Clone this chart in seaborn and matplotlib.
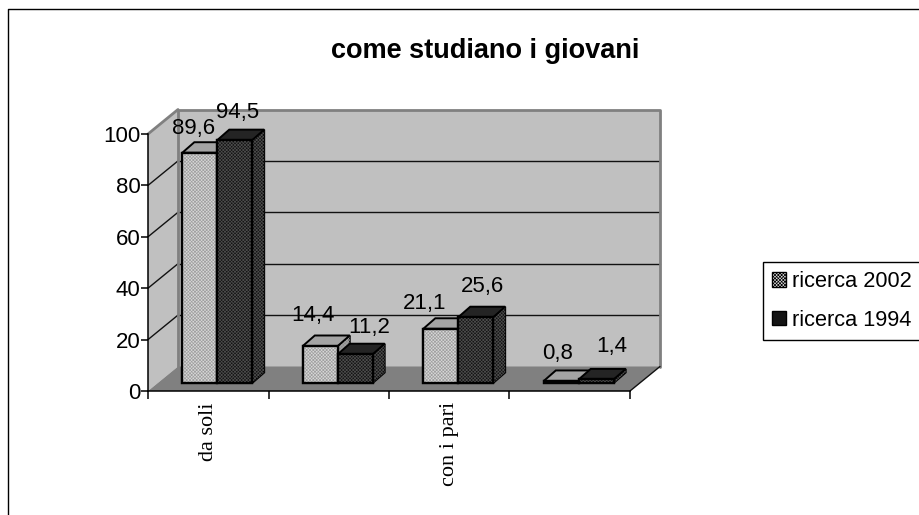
import matplotlib
matplotlib.use("Agg")
import matplotlib.pyplot as plt
import seaborn as sns
import pandas as pd
from matplotlib.patches import Polygon, Patch, Rectangle
from matplotlib.transforms import ScaledTranslation

title = "come studiano i giovani"
categories = ["da soli", " ", "con i pari", "  "]
series_names = ["ricerca 2002", "ricerca 1994"]
ricerca_2002 = [89.6, 14.4, 21.1, 0.8]
ricerca_1994 = [94.5, 11.2, 25.6, 1.4]
y_ticks = [0, 20, 40, 60, 80, 100]

W, H = 919, 515
sns.set_theme(style="white")
plt.rcParams["font.family"] = ["Liberation Sans", "DejaVu Sans"]
plt.rcParams["hatch.linewidth"] = 0.5

fig = plt.figure(figsize=(W / 100, H / 100), dpi=100)
ax = fig.add_axes([148 / W, (H - 391) / H, 482 / W, 257 / H])

df = pd.DataFrame({
    "cat": categories * 2,
    "serie": [series_names[0]] * 4 + [series_names[1]] * 4,
    "val": ricerca_2002 + ricerca_1994,
})
LIGHT, DARK = "#d8d8d8", "#141414"
HATCH_L, HATCH_D = "#a0a0a0", "#4c4c4c"
HATCH = "xxxxxxxxxx"
sns.barplot(data=df, x="cat", y="val", hue="serie", hue_order=series_names,
            palette=[LIGHT, DARK], width=0.58, gap=0, saturation=1,
            edgecolor="black", linewidth=1.6, legend=False, ax=ax)
ax.set_xlim(-0.5, 3.5)
ax.set_ylim(0, 100)


def shift(dx, dy):
    return ax.transData + ScaledTranslation(dx / 100, dy / 100, fig.dpi_scale_trans)


x0, x1 = -0.5, 3.5
to_px = lambda x, y: ax.transData.transform((x, y))
inv = fig.transFigure.inverted()


def off(p, dx, dy):
    return (p[0] + dx, p[1] + dy)


def fig_poly(pts, **kw):
    p = Polygon([inv.transform(q) for q in pts], closed=True,
                transform=fig.transFigure, clip_on=False, **kw)
    ax.add_patch(p)
    return p


def fig_line(a, b, **kw):
    pa, pb = inv.transform(a), inv.transform(b)
    ax.plot([pa[0], pb[0]], [pa[1], pb[1]], transform=fig.transFigure, clip_on=False, **kw)


# back wall, side wall, floor
DX, DY = 30, 24.5
back = shift(DX, DY)
bl, br, tl = to_px(x0, 0), to_px(x1, 0), to_px(x0, 100)
ax.add_patch(Rectangle((x0, 0), x1 - x0, 100, transform=back, fc="#c0c0c0", ec="none",
                       clip_on=False, zorder=0.1))
fig_poly([bl, tl, off(tl, DX, DY), off(bl, DX, DY)], fc="#c0c0c0", ec="none", zorder=0.1)
fig_poly([bl, br, off(br, DX, DY), off(bl, DX, DY)], fc="#808080", ec="none", zorder=0.2)

for t in y_ticks[1:-1]:
    ax.plot([x0, x1], [t, t], transform=back, color="#111111", lw=1.0, clip_on=False, zorder=0.3)
    fig_line(to_px(x0, t), off(to_px(x0, t), DX, DY), color="#111111", lw=1.0, zorder=0.3)
ax.plot([x0, x0, x1, x1], [0, 100, 100, 0], transform=back, color="#808080", lw=2,
        clip_on=False, zorder=0.35)
fig_line(tl, off(tl, DX, DY), color="#808080", lw=2, zorder=0.35)
fig_line(br, off(br, DX, DY), color="#111111", lw=1.0, zorder=0.35)

# bars: shift the library's bars onto the floor and give them depth
BX, BY, DEPTH_X, DEPTH_Y = 9, 8, 12, 10.5
bars = [p for c in ax.containers for p in c.patches]
values = ricerca_2002 + ricerca_1994
label_nudge = [(-6, 24), (-7, 30), (-16, 25), (-4, 27),
               (3, 28), (14, 27), (7, 31), (16, 33)]
order = sorted(range(len(bars)), key=lambda i: bars[i].get_x())
n = len(categories)
for z, i in enumerate(order):
    bar = bars[i]
    light = i < n
    top_col, side_col = ("#a4a4a4", "#8c8c8c") if light else ("#242424", "#141414")
    hatch_col = HATCH_L if light else HATCH_D
    zb = 1 + z * 0.1
    bar.set_transform(shift(BX, BY))
    bar.set_zorder(zb + 0.02)
    bar.set_clip_on(False)
    x, w, h = bar.get_x(), bar.get_width(), bar.get_height()
    p00 = off(to_px(x, 0), BX, BY)
    p10 = off(to_px(x + w, 0), BX, BY)
    p01 = off(to_px(x, h), BX, BY)
    p11 = off(to_px(x + w, h), BX, BY)
    side = [p10, p11, off(p11, DEPTH_X, DEPTH_Y), off(p10, DEPTH_X, DEPTH_Y)]
    top = [p01, p11, off(p11, DEPTH_X, DEPTH_Y), off(p01, DEPTH_X, DEPTH_Y)]
    front = [p00, p10, p11, p01]
    fig_poly(side, fc=side_col, ec="black", lw=1.4, zorder=zb)
    fig_poly(side, fc="none", ec=hatch_col, lw=0, hatch=HATCH, zorder=zb + 0.001)
    fig_poly(top, fc=top_col, ec="black", lw=1.4, zorder=zb + 0.01)
    fig_poly(front, fc="none", ec=hatch_col, lw=0, hatch=HATCH, zorder=zb + 0.03)
    fig_poly(front, fc="none", ec="black", lw=1.6, zorder=zb + 0.04)
    nx, ny = label_nudge[i]
    ax.annotate(f"{values[i]:.1f}".replace(".", ","),
                xy=(x + w / 2, h), xycoords="data",
                xytext=(BX + nx, BY + ny), textcoords="offset pixels",
                ha="center", va="center", fontsize=16, color="black",
                annotation_clip=False, zorder=5)

# axes
sns.despine(ax=ax, top=True, right=True)
for s in ("left", "bottom"):
    ax.spines[s].set_color("black")
    ax.spines[s].set_linewidth(1.1)
    ax.spines[s].set_zorder(4)
ax.patch.set_visible(False)
ax.set_xlabel("")
ax.set_ylabel("")
ax.set_yticks(y_ticks)
ax.tick_params(axis="y", left=True, length=5, width=1.1, color="black", labelsize=16,
               labelcolor="black", pad=0.5)
ax.set_xticks(range(n))
ax.set_xticks([k - 0.5 for k in range(n + 1)], minor=True)
ax.tick_params(axis="x", which="minor", bottom=True, length=6, width=1.1, color="black")
ax.tick_params(axis="x", which="major", bottom=False, length=0, pad=8)
ax.set_xticklabels(categories, rotation=90, family=["Liberation Serif"], fontsize=16,
                   color="black", va="top", ha="center")

fig.text(485 / W, 1 - 51 / H, title, fontsize=19.5, fontweight="bold", color="black",
         ha="center", va="center")

# page frame (left and top rule)
fig.add_artist(plt.Line2D([7.5 / W, 7.5 / W, 1], [0, 1 - 8.5 / H, 1 - 8.5 / H],
                          color="black", lw=1.0))

handles = [Patch(fc=LIGHT, ec="black", hatch=HATCH, lw=1),
           Patch(fc=DARK, ec="black", lw=1)]
leg = fig.legend(handles, series_names, loc="upper left",
                 bbox_to_anchor=(763 / W, 1 - 262 / H), frameon=True, fancybox=False,
                 edgecolor="black", framealpha=1, fontsize=15.7, handlelength=0.64,
                 handleheight=0.64, handletextpad=0.28, labelspacing=0.8,
                 borderpad=0.42, borderaxespad=0)
leg.get_frame().set_linewidth(1.0)
for t in leg.get_texts():
    t.set_color("black")

fig.savefig("out.png", dpi=100)
